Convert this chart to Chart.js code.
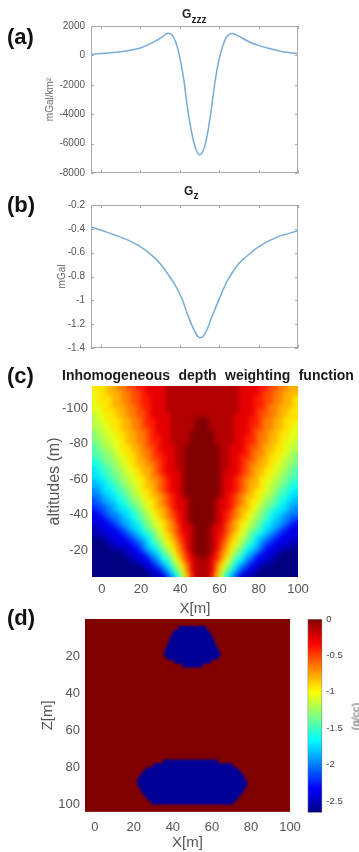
<!DOCTYPE html>
<html lang="en">
<head>
<meta charset="UTF-8" />
<title>Gravity profiles, depth weighting and density model</title>
<script src="https://cdn.jsdelivr.net/npm/chart.js@4.4.1/dist/chart.umd.min.js"></script>
<style>
  html, body { margin: 0; padding: 0; background: #fff; }
  body { width: 359px; height: 852px; position: relative; overflow: hidden;
         font-family: "Liberation Sans", Arial, sans-serif; }
  .box { position: absolute; left: 0; }
  .tag { position: absolute; left: 7px; font-weight: bold; font-size: 22px; line-height: 22px; color: #111; }
  .gt { position: absolute; font-weight: bold; color: #222; white-space: nowrap; }
  .cb-label { position: absolute; width: 50px; text-align: center; font-size: 11px; line-height: 13px;
              color: #555; transform: rotate(-90deg); }
</style>
</head>
<body>
  <div class="box" style="top:0;width:359px;height:185px"><canvas id="aGzzz" width="359" height="185"></canvas></div>
  <div class="box" style="top:185px;width:359px;height:175px"><canvas id="bGz" width="359" height="175"></canvas></div>
  <div class="box" style="top:360px;width:359px;height:260px"><canvas id="cWeight" width="359" height="260"></canvas></div>
  <div class="box" style="top:600px;width:359px;height:252px"><canvas id="dModel" width="359" height="252"></canvas></div>
  <div class="box" style="top:600px;left:290px;width:69px;height:252px"><canvas id="dBar" width="69" height="252"></canvas></div>

  <div class="tag" style="top:26px">(a)</div>
  <div class="tag" style="top:194px">(b)</div>
  <div class="tag" style="top:365px">(c)</div>
  <div class="tag" style="top:607px">(d)</div>

  <span class="gt" style="left:182px;top:8px;font-size:12px;line-height:12px">G</span>
  <span class="gt" style="left:191.5px;top:14.5px;font-size:10px;line-height:10px">zzz</span>
  <span class="gt" style="left:184px;top:184.5px;font-size:12px;line-height:12px">G</span>
  <span class="gt" style="left:193.5px;top:190.5px;font-size:10px;line-height:10px">z</span>
  <span class="gt" style="left:62px;top:368px;font-size:14px;line-height:14px;word-spacing:4.5px;color:#1a1a1a">Inhomogeneous depth weighting function</span>
  <div class="cb-label" style="left:330.5px;top:709.5px">(g/cc)</div>

<script>
// (a) and (b): profiles along x (m)
const profileX = [-5, 0, 5, 10, 15, 20, 25, 28, 31, 34, 36, 38, 40, 42, 44, 46, 48,
  50, 52, 54, 56, 58, 60, 62, 64, 66.5, 69, 72, 76, 80, 85, 90, 95, 100];
const gzzz = [80, 130, 180, 250, 350, 500, 780, 1000, 1250, 1500, 1400, 900, -100, -1600, -3600, -5200, -6300,
  -6770, -6450, -5400, -3700, -1700, -250, 700, 1300, 1490, 1380, 1150, 880, 680, 480, 320, 200, 110];

const gzX = [-5, 0, 5, 10, 15, 20, 25, 30, 34, 38, 41, 44, 47, 49, 50.5,
  52, 54, 56, 58, 61, 64, 67, 70, 74, 78, 82, 86, 90, 95, 100];
const gz = [-0.385, -0.41, -0.44, -0.47, -0.505, -0.55, -0.61, -0.69, -0.78, -0.88, -0.98, -1.12, -1.24, -1.30, -1.315,
  -1.30, -1.24, -1.15, -1.07, -0.95, -0.84, -0.76, -0.69, -0.63, -0.575, -0.53, -0.495, -0.465, -0.44, -0.415];

// (c): weighting function on a 2.5 m grid, one char per cell, 0 (lowest) .. k (highest)
const weightX = [-3.75, -1.25, 1.25, 3.75, 6.25, 8.75, 11.25, 13.75, 16.25, 18.75, 21.25, 23.75, 26.25, 28.75,
  31.25, 33.75, 36.25, 38.75, 41.25, 43.75, 46.25, 48.75, 51.25, 53.75, 56.25, 58.75, 61.25, 63.75,
  66.25, 68.75, 71.25, 73.75, 76.25, 78.75, 81.25, 83.75, 86.25, 88.75, 91.25, 93.75, 96.25, 98.75];
const weightZ = [-111.25, -108.75, -106.25, -103.75, -101.25, -98.75, -96.25, -93.75, -91.25, -88.75, -86.25,
  -83.75, -81.25, -78.75, -76.25, -73.75, -71.25, -68.75, -66.25, -63.75, -61.25, -58.75, -56.25, -53.75,
  -51.25, -48.75, -46.25, -43.75, -41.25, -38.75, -36.25, -33.75, -31.25, -28.75, -26.25, -23.75, -21.25,
  -18.75, -16.25, -13.75, -11.25, -8.75, -6.25];
const weightRows = [
  "dddeeffgghhiiiijjjjjjjjjjjjjjjiiiihhggffee",
  "cddeeeffgghiiiijjjjjjjjjjjjjjjiiiihggffeee",
  "cdddeeffgghhiiijjjjjjjjjjjjjjjiiihhggffeed",
  "cdddeeffgghhiiijjjjjjjjjjjjjjjiiihhggffeed",
  "ccddeeeffghhiiijjjjjjjjjjjjjjjiiihhgffeeed",
  "ccdddeeffgghiiijjjjjjjjjjjjjjjiiihggffeedd",
  "bccddeeffgghiiiijjjjjjjjjjjjjiiiihggffeedd",
  "bccdddeeffghhiiijjjjjkkkjjjjjiiihhgffeeddd",
  "bbccddeeffghhiiijjjjjkkkjjjjjiiihhgffeeddc",
  "bbccddeeffgghiiijjjjjkkkjjjjjiiihggffeeddc",
  "abbccddeeffghiiijjjjkkkkkjjjjiiihgffeeddcc",
  "abbccddeeffghhiijjjjkkkkkjjjjiihhgffeeddcc",
  "aabbccdeeffghhiijjjjkkkkkjjjjiihhgffeedccb",
  "9abbccddeefgghiiijjkkkkkkkjjiiihggfeeddccb",
  "9aabbcddeeffghiiijjkkkkkkkjjiiihgffeeddcbb",
  "99aabccddeffghhiijjkkkkkkkjjiihhgffeddccba",
  "89aabbcddeefgghiijjkkkkkkkjjiihggfeeddcbba",
  "889aabccdeeffghiijjkkkkkkkjjiihgffeedccbaa",
  "7899abbcddeefghiijjkkkkkkkjjiihgfeeddcbba9",
  "7889aabccdeefghiiijkkkkkkkjiiihgfeedccbaa9",
  "77899abbcddeffghiijkkkkkkkjiihgffeddcbba99",
  "67789aabccdeefghiijkkkkkkkjiihgfeedccbaa98",
  "667889abbcdeefghiijkkkkkkkjiihgfeedcbba988",
  "5677899abcddefghiijkkkkkkkjiihgfeddcba9987",
  "5567789abbcdeefghijkkkkkkkjihgfeedcbba9877",
  "45667889abcddefghiijkkkkkjiihgfeddcba98876",
  "44566789aabcdefghiijkkkkkjiihgfedcbaa98766",
  "344567789abcdeefhiijkkkkkjiihfeedcba987765",
  "2345567789abcdefghijkkkkkjihgfedcba9877655",
  "2234556789abcdefghijkkkkkjihgfedcba9876554",
  "22234566789abcdefhijkkkkkjihfedcba98766543",
  "12223456779abcdefgiijkkkjiigfedcba97765432",
  "112223456789abcefgiijkkkjiigfecba987654322",
  "1112223456789bcdeghijkkkjihgedcb9876543222",
  "0011222345679abdefhijkkkjihfedba9765432221",
  "00011222345789bcdfgijkkkjigfdcb98754322211",
  "00001112235678abdegijkkkjigedba87653221110",
  "000000112235679acefhjkkkjhfeca976532211000",
  "0000000112235689bdfhijkjihfdb9865322110000",
  "0000000011224578acegijjjigeca8754221100000",
  "00000000001224579bdfijjjifdb97542210000000",
  "00000000000122468acfijjjifca86422100000000",
  "000000000000112468behjjjheb864211000000000"
];
const LEVELS = "0123456789abcdefghijk";

// (d): density model, rows of the two bodies (z in m, x from / to in m)
const topBodyZ = [5, 7, 9, 11, 13, 15, 17, 19, 21, 23, 25];
const topBodyFrom = [43, 40.5, 39.3, 38.5, 37.8, 37, 36.3, 35.6, 37, 40.5, 45];
const topBodyTo = [57, 58.5, 59.8, 60.8, 61.4, 62.3, 63.3, 64.3, 62.8, 59.3, 55];
const lowBodyZ = [77, 79, 81, 83, 85, 87, 89, 91, 93, 95, 97, 99];
const lowBodyFrom = [35, 30, 26.5, 24.5, 23, 22, 22, 22.8, 24, 25.5, 27, 29];
const lowBodyTo = [63, 70.5, 73, 74.8, 76.3, 77.3, 78, 77.3, 76, 74.5, 73, 71];
const hostDensity = 0;
const bodyDensity = -2.6;
const densityRange = [-2.66, 0];

Chart.defaults.font.family = "'Liberation Sans', Arial, sans-serif";
Chart.defaults.color = '#555';
Chart.defaults.animation = false;
Chart.defaults.plugins.legend.display = false;
Chart.defaults.plugins.tooltip.enabled = false;

function jet(v) {
  const ch = c => Math.round(255 * Math.min(1, Math.max(0, 1.5 - Math.abs(4 * v - c))));
  return `rgb(${ch(3)},${ch(2)},${ch(1)})`;
}
const densityColor = d => jet((d - densityRange[0]) / (densityRange[1] - densityRange[0]));
const plain = v => String(+Number(v).toFixed(2));
const fixW = w => s => { s.width = w; };
const fixH = h => s => { s.height = h; };
const noGrid = { display: false, drawTicks: false };
const noBorder = { display: false };

// matlab style box with inward ticks
const boxTicks = {
  id: 'boxTicks',
  afterDraw(chart, args, opts) {
    if (!opts.color) return;
    const { ctx, chartArea: a, scales: { x, y } } = chart;
    ctx.save();
    ctx.strokeStyle = opts.color;
    ctx.lineWidth = 1;
    ctx.strokeRect(a.left + 0.5, a.top + 0.5, a.right - a.left - 1, a.bottom - a.top - 1);
    ctx.beginPath();
    x.ticks.forEach(t => {
      const p = Math.round(x.getPixelForValue(t.value)) + 0.5;
      ctx.moveTo(p, a.bottom); ctx.lineTo(p, a.bottom - 3);
      ctx.moveTo(p, a.top); ctx.lineTo(p, a.top + 3);
    });
    y.ticks.forEach(t => {
      const p = Math.round(y.getPixelForValue(t.value)) + 0.5;
      ctx.moveTo(a.left, p); ctx.lineTo(a.left + 3, p);
      ctx.moveTo(a.right, p); ctx.lineTo(a.right - 3, p);
    });
    ctx.stroke();
    ctx.restore();
  }
};

const areaFill = {
  id: 'areaFill',
  beforeDatasetsDraw(chart, args, opts) {
    if (!opts.color) return;
    const { ctx, chartArea: a } = chart;
    ctx.save();
    ctx.fillStyle = opts.color;
    ctx.fillRect(a.left, a.top, a.right - a.left, a.bottom - a.top);
    ctx.restore();
  }
};

// soften the cell edges like matlab's interpolated shading
const softCells = {
  id: 'softCells',
  afterDatasetsDraw(chart, args, opts) {
    if (!opts.radius) return;
    const { ctx, chartArea: a, canvas } = chart;
    const l = Math.round(a.left), t = Math.round(a.top);
    const w = Math.round(a.right) - l, h = Math.round(a.bottom) - t;
    const off = document.createElement('canvas');
    off.width = w; off.height = h;
    off.getContext('2d').drawImage(canvas, l, t, w, h, 0, 0, w, h);
    ctx.save();
    ctx.beginPath();
    ctx.rect(l, t, w, h);
    ctx.clip();
    ctx.filter = `blur(${opts.radius}px)`;
    ctx.drawImage(off, l, t);
    ctx.restore();
  }
};

function profile(id, xs, ys, yMin, yMax, yStep, yTitle, padTop, xHeight, titlePad) {
  return new Chart(document.getElementById(id), {
    type: 'line',
    data: { datasets: [{
      data: xs.map((x, i) => ({ x, y: ys[i] })),
      borderColor: '#77acd9', borderWidth: 1.5, pointRadius: 0, cubicInterpolationMode: 'monotone'
    }] },
    options: {
      responsive: false, devicePixelRatio: 1,
      layout: { padding: { left: 0, right: 61, top: padTop, bottom: 0 } },
      plugins: { boxTicks: { color: '#aaaaaa' } },
      scales: {
        x: { type: 'linear', min: -5, max: 100,
             ticks: { display: false, stepSize: 20, includeBounds: false },
             grid: noGrid, border: noBorder, afterFit: fixH(xHeight) },
        y: { type: 'linear', min: yMin, max: yMax,
             ticks: { stepSize: yStep, padding: 6, font: { size: 10 }, color: '#555', callback: plain },
             grid: noGrid, border: noBorder,
             title: { display: true, text: yTitle, font: { size: 10 }, color: '#666', padding: { top: titlePad } },
             afterFit: fixW(91) }
      }
    },
    plugins: [boxTicks]
  });
}

profile('aGzzz', profileX, gzzz, -8000, 2000, 2000, 'mGal/km²', 26, 10, 44);
profile('bGz', gzX, gz, -1.4, -0.2, 0.2, 'mGal', 20, 10.5, 56);

// (c) heat map, one floating bar per cell
const heatSets = weightZ.map((z, r) => {
  let row = weightRows[r];
  while (row.length < weightX.length) row += row[row.length - 1];
  return {
    data: weightX.map(x => ({ x, y: [z - 1.25, z + 1.25] })),
    backgroundColor: weightX.map((x, k) => jet(LEVELS.indexOf(row[k]) / 20)),
    borderWidth: 0, grouped: false, barPercentage: 1, categoryPercentage: 1
  };
});

new Chart(document.getElementById('cWeight'), {
  type: 'bar',
  data: { datasets: heatSets },
  options: {
    responsive: false, devicePixelRatio: 1,
    layout: { padding: { left: 0, right: 61, top: 26, bottom: 0 } },
    plugins: { softCells: { radius: 2.5 } },
    scales: {
      x: { type: 'linear', min: -5, max: 100, offset: false,
           ticks: { stepSize: 20, includeBounds: false, padding: 5, font: { size: 13 }, color: '#555' },
           grid: noGrid, border: noBorder,
           title: { display: true, text: 'X[m]', font: { size: 15 }, color: '#555', padding: { top: 0, bottom: 2 } },
           afterFit: fixH(43) },
      y: { type: 'linear', reverse: true, min: -112.5, max: -5, beginAtZero: false,
           ticks: { stepSize: 20, includeBounds: false, padding: 4, font: { size: 13 }, color: '#555' },
           grid: noGrid, border: noBorder,
           title: { display: true, text: 'altitudes (m)', font: { size: 16 }, color: '#555', padding: { top: 45 } },
           afterFit: fixW(92) }
    }
  },
  plugins: [softCells]
});

// (d) density model
const bodyRows = (zs, from, to) => zs.map((z, i) => ({ y: z, x: [from[i], to[i]] }));
new Chart(document.getElementById('dModel'), {
  type: 'bar',
  data: { datasets: [
    { data: bodyRows(topBodyZ, topBodyFrom, topBodyTo), backgroundColor: densityColor(bodyDensity),
      borderWidth: 0, grouped: false, barPercentage: 1, categoryPercentage: 1 },
    { data: bodyRows(lowBodyZ, lowBodyFrom, lowBodyTo), backgroundColor: densityColor(bodyDensity),
      borderWidth: 0, grouped: false, barPercentage: 1, categoryPercentage: 1 }
  ] },
  options: {
    indexAxis: 'y',
    responsive: false, devicePixelRatio: 1,
    layout: { padding: { left: 0, right: 69, top: 19, bottom: 0 } },
    plugins: { areaFill: { color: densityColor(hostDensity) }, softCells: { radius: 0.8 } },
    scales: {
      x: { type: 'linear', min: -5, max: 100, offset: false, beginAtZero: false,
           ticks: { stepSize: 20, includeBounds: false, padding: 7.5, font: { size: 13 }, color: '#555' },
           grid: noGrid, border: noBorder,
           title: { display: true, text: 'X[m]', font: { size: 15 }, color: '#555', padding: { top: 0, bottom: 0 } },
           afterFit: fixH(40.3) },
      y: { type: 'linear', reverse: true, min: 0, max: 104, offset: false,
           ticks: { stepSize: 20, includeBounds: false, padding: 5, font: { size: 13 }, color: '#555',
                    callback: v => (v === 0 ? null : v) },
           grid: noGrid, border: noBorder,
           title: { display: true, text: 'Z[m]', font: { size: 15 }, color: '#555', padding: { top: 39 } },
           afterFit: fixW(85) }
    }
  },
  plugins: [areaFill, softCells]
});

// colour bar
function jetGradient(c) {
  const a = c.chart.chartArea;
  if (!a) return densityColor(hostDensity);
  const g = c.chart.ctx.createLinearGradient(0, a.bottom, 0, a.top);
  [0, 1 / 8, 3 / 8, 5 / 8, 7 / 8, 1].forEach(s => g.addColorStop(s, jet(s)));
  return g;
}
new Chart(document.getElementById('dBar'), {
  type: 'bar',
  data: { labels: ['density'], datasets: [{
    data: [densityRange], backgroundColor: jetGradient, borderColor: '#7a7a7a', borderWidth: 1,
    borderSkipped: false, barPercentage: 1, categoryPercentage: 1
  }] },
  options: {
    responsive: false, devicePixelRatio: 1,
    layout: { padding: { left: 17.5, right: 0, top: 19, bottom: 39.3 } },
    scales: {
      x: { display: false },
      y: { position: 'right', min: densityRange[0], max: densityRange[1], beginAtZero: false,
           ticks: { stepSize: 0.5, includeBounds: false, padding: 4, font: { size: 9.5 }, color: '#444', callback: plain },
           grid: noGrid, border: noBorder, afterFit: fixW(36.7) }
    }
  }
});
</script>
</body>
</html>
